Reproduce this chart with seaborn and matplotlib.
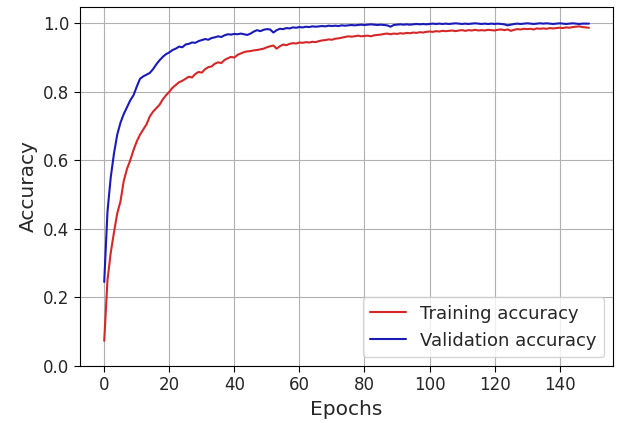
import seaborn as sns
import pandas as pd
import matplotlib.pyplot as plt

train_acc = [
    0.073, 0.25, 0.33, 0.39, 0.445, 0.48, 0.54, 0.575, 0.60, 0.63,
    0.655, 0.675, 0.69, 0.705, 0.728, 0.742, 0.752, 0.762, 0.778, 0.79,
    0.80, 0.812, 0.82, 0.828, 0.832, 0.838, 0.844, 0.842, 0.852, 0.858,
    0.856, 0.866, 0.872, 0.874, 0.882, 0.886, 0.884, 0.893, 0.898, 0.902,
    0.900, 0.908, 0.912, 0.916, 0.918, 0.919, 0.921, 0.922, 0.924, 0.926,
    0.930, 0.933, 0.935, 0.926, 0.933, 0.938, 0.936, 0.940, 0.942, 0.941,
    0.944, 0.943, 0.945, 0.944, 0.946, 0.945, 0.948, 0.950, 0.951, 0.953,
    0.952, 0.955, 0.956, 0.958, 0.960, 0.962, 0.961, 0.962, 0.964, 0.962,
    0.963, 0.964, 0.962, 0.965, 0.966, 0.967, 0.969, 0.970, 0.968, 0.970,
    0.969, 0.971, 0.970, 0.972, 0.971, 0.973, 0.972, 0.974, 0.973, 0.975,
    0.976, 0.975, 0.977, 0.976, 0.978, 0.977, 0.978, 0.979, 0.977, 0.979,
    0.980, 0.978, 0.980, 0.979, 0.981, 0.979, 0.980, 0.979, 0.981, 0.980,
    0.979, 0.981, 0.982, 0.980, 0.982, 0.978, 0.981, 0.983, 0.982, 0.984,
    0.983, 0.984, 0.982, 0.985, 0.984, 0.985, 0.984, 0.986, 0.985, 0.986,
    0.987, 0.986, 0.988, 0.987, 0.989, 0.990, 0.991, 0.989, 0.988, 0.987,
]

val_acc = [
    0.245, 0.45, 0.55, 0.62, 0.675, 0.71, 0.735, 0.755, 0.775, 0.79,
    0.815, 0.838, 0.845, 0.85, 0.855, 0.866, 0.88, 0.892, 0.902, 0.91,
    0.915, 0.922, 0.926, 0.932, 0.930, 0.938, 0.940, 0.944, 0.943, 0.948,
    0.951, 0.954, 0.952, 0.957, 0.959, 0.962, 0.960, 0.965, 0.968, 0.967,
    0.969, 0.968, 0.970, 0.968, 0.966, 0.970, 0.976, 0.980, 0.977, 0.981,
    0.983, 0.982, 0.973, 0.980, 0.984, 0.983, 0.986, 0.985, 0.988, 0.987,
    0.989, 0.988, 0.990, 0.989, 0.991, 0.990, 0.991, 0.992, 0.991, 0.993,
    0.992, 0.993, 0.992, 0.994, 0.993, 0.994, 0.995, 0.994, 0.995, 0.996,
    0.995, 0.996, 0.997, 0.996, 0.995, 0.996, 0.995, 0.994, 0.990, 0.995,
    0.996, 0.997, 0.996, 0.997, 0.996, 0.997, 0.998, 0.997, 0.998, 0.997,
    0.998, 0.999, 0.998, 0.999, 0.998, 0.999, 0.998, 0.999, 1.000, 0.999,
    0.998, 0.999, 0.998, 0.999, 1.000, 0.999, 0.998, 0.999, 0.998, 0.999,
    0.998, 0.999, 0.998, 0.997, 0.994, 0.996, 0.998, 0.999, 0.998, 0.999,
    1.000, 0.999, 0.998, 0.999, 1.000, 0.999, 1.000, 0.999, 0.998, 0.999,
    1.000, 0.999, 0.998, 0.999, 1.000, 0.999, 0.998, 0.999, 0.999, 0.999,
]

epochs = list(range(len(train_acc)))

df = pd.DataFrame({
    "Epochs": epochs + epochs,
    "Accuracy": train_acc + val_acc,
    "series": ["Training accuracy"] * len(epochs) + ["Validation accuracy"] * len(epochs),
})

sns.set_style("ticks", {"axes.grid": True, "grid.color": "#b0b0b0",
                        "axes.edgecolor": "black"})
plt.rcParams["font.family"] = ["DejaVu Sans"]

fig = plt.figure(figsize=(6.2, 4.23), dpi=100)
ax = fig.add_axes([0.129, 0.135, 0.860, 0.848])
sns.lineplot(data=df, x="Epochs", y="Accuracy", hue="series",
             palette=["#d62728", "#1a1ab8"], linewidth=1.5, ax=ax)

ax.set_xlim(-7.45, 156.45)
ax.set_ylim(0, 1.047)
ax.set_xticks(range(0, 150, 20))
ax.set_yticks([0.0, 0.2, 0.4, 0.6, 0.8, 1.0])
ax.tick_params(labelsize=12, length=4, color="black")
ax.set_xlabel("Epochs", fontsize=14.5)
ax.set_ylabel("Accuracy", fontsize=14.5)
ax.grid(True, color="#b0b0b0", linewidth=0.8)
ax.legend(title=None, loc="lower right", fontsize=13, framealpha=0.8)

plt.savefig("out.png", dpi=100)
